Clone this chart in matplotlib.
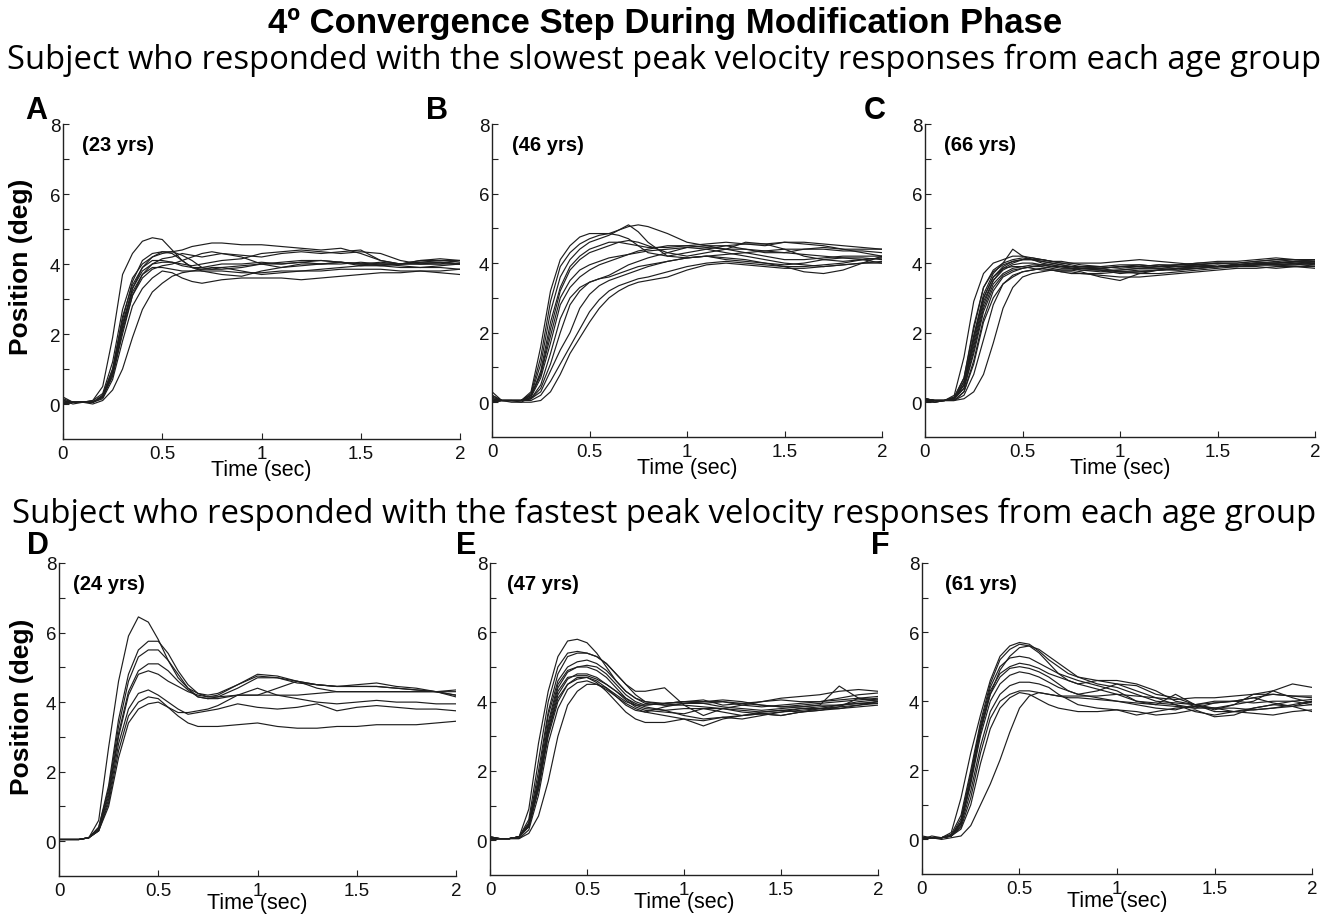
import matplotlib
matplotlib.use("Agg")
import matplotlib.pyplot as plt
from matplotlib.ticker import FixedLocator

# ---------------- data ----------------
time_s = [0.0, 0.05, 0.1, 0.15, 0.2, 0.25, 0.3, 0.35, 0.4, 0.45, 0.5, 0.55, 0.6, 0.65,
          0.7, 0.75, 0.8, 0.9, 1.0, 1.1, 1.2, 1.3, 1.4, 1.5, 1.6, 1.7, 1.8, 1.9, 2.0]

traces_A = [
    [0.1, 0.05, 0.05, 0.1, 0.5, 1.9, 3.7, 4.3, 4.65, 4.75, 4.7, 4.4, 4.1, 3.9, 3.85, 3.85, 3.9,
     3.95, 4.0, 4.0, 4.05, 4.0, 4.0, 4.05, 4.0, 4.0, 4.05, 4.1, 4.1],
    [0.0, 0.05, 0.05, 0.1, 0.3, 1.2, 2.7, 3.6, 4.0, 4.2, 4.3, 4.35, 4.4, 4.5, 4.55, 4.6, 4.6,
     4.55, 4.55, 4.5, 4.45, 4.4, 4.45, 4.3, 4.1, 4.0, 4.1, 4.1, 4.05],
    [0.2, 0.05, 0.05, 0.05, 0.25, 1.0, 2.4, 3.5, 4.1, 4.3, 4.35, 4.35, 4.25, 4.1, 3.9, 3.85, 3.85,
     3.9, 4.0, 4.05, 4.1, 4.1, 4.05, 4.0, 4.0, 4.0, 4.0, 4.0, 4.0],
    [0.1, 0.0, 0.05, 0.05, 0.2, 0.9, 2.2, 3.3, 3.9, 4.2, 4.35, 4.3, 4.1, 3.9, 3.8, 3.75, 3.7,
     3.65, 3.8, 3.9, 4.0, 4.0, 4.05, 3.95, 3.95, 3.9, 3.9, 3.95, 4.0],
    [0.0, 0.05, 0.05, 0.05, 0.2, 0.8, 2.0, 3.1, 3.7, 4.0, 4.15, 4.2, 4.3, 4.25, 4.2, 4.25, 4.3,
     4.25, 4.2, 4.3, 4.35, 4.3, 4.35, 4.4, 4.1, 4.0, 4.0, 4.05, 4.0],
    [0.05, 0.05, 0.05, 0.05, 0.15, 0.7, 1.8, 2.8, 3.3, 3.6, 3.8, 3.75, 3.6, 3.5, 3.45, 3.5, 3.55,
     3.6, 3.6, 3.6, 3.55, 3.6, 3.65, 3.7, 3.75, 3.75, 3.8, 3.8, 3.85],
    [0.0, 0.05, 0.05, 0.0, 0.1, 0.4, 1.0, 1.9, 2.7, 3.2, 3.45, 3.65, 3.75, 3.8, 3.8, 3.8, 3.8,
     3.75, 3.75, 3.8, 3.8, 3.8, 3.85, 3.85, 3.85, 3.8, 3.8, 3.75, 3.7],
    [0.1, 0.05, 0.05, 0.05, 0.2, 0.9, 2.3, 3.3, 3.8, 4.0, 4.05, 4.05, 4.0, 3.95, 4.0, 4.05, 4.1,
     4.15, 4.3, 4.35, 4.4, 4.35, 4.3, 4.35, 4.3, 4.1, 4.0, 4.0, 4.1],
    [0.05, 0.05, 0.05, 0.05, 0.2, 0.8, 2.1, 3.1, 3.6, 3.85, 3.95, 4.0, 4.1, 4.2, 4.3, 4.35, 4.3,
     4.2, 4.0, 3.9, 3.95, 4.0, 4.05, 4.0, 3.95, 4.0, 4.1, 4.15, 4.1],
    [0.0, 0.05, 0.05, 0.05, 0.2, 0.9, 2.2, 3.2, 3.7, 3.9, 3.9, 3.85, 3.8, 3.8, 3.85, 3.9, 3.9,
     3.8, 3.7, 3.75, 3.8, 3.85, 3.9, 3.95, 4.0, 3.95, 3.9, 3.9, 3.85],
    [0.15, 0.05, 0.05, 0.05, 0.25, 1.0, 2.5, 3.4, 3.9, 4.1, 4.1, 4.05, 3.95, 3.9, 3.9, 3.95, 4.0,
     4.0, 4.05, 4.0, 4.05, 4.1, 4.05, 4.0, 4.05, 4.0, 4.05, 4.05, 4.0],
]

traces_B = [
    [0.3, 0.05, 0.05, 0.05, 0.3, 1.6, 3.2, 4.1, 4.5, 4.75, 4.85, 4.85, 4.85, 4.8, 4.7, 4.5, 4.3,
     4.2, 4.15, 4.2, 4.25, 4.3, 4.35, 4.4, 4.4, 4.4, 4.35, 4.35, 4.3],
    [0.2, 0.05, 0.05, 0.05, 0.25, 1.3, 2.9, 3.9, 4.3, 4.55, 4.7, 4.8, 4.85, 4.95, 5.05, 5.1, 5.05,
     4.85, 4.6, 4.5, 4.4, 4.3, 4.2, 4.1, 4.1, 4.15, 4.2, 4.2, 4.2],
    [0.1, 0.05, 0.05, 0.05, 0.2, 1.1, 2.6, 3.6, 4.1, 4.4, 4.6, 4.7, 4.8, 4.95, 5.1, 4.9, 4.6,
     4.2, 4.3, 4.4, 4.5, 4.4, 4.3, 4.3, 4.4, 4.45, 4.4, 4.4, 4.4],
    [0.0, 0.05, 0.05, 0.0, 0.15, 0.9, 2.3, 3.3, 3.9, 4.2, 4.4, 4.5, 4.6, 4.6, 4.55, 4.5, 4.45,
     4.45, 4.5, 4.55, 4.6, 4.55, 4.5, 4.6, 4.6, 4.55, 4.5, 4.45, 4.4],
    [0.15, 0.05, 0.05, 0.05, 0.2, 0.8, 2.1, 3.2, 3.8, 4.1, 4.3, 4.4, 4.5, 4.6, 4.65, 4.6, 4.5,
     4.3, 4.2, 4.3, 4.4, 4.6, 4.55, 4.4, 4.2, 4.1, 4.05, 4.1, 4.15],
    [0.05, 0.05, 0.05, 0.05, 0.2, 0.8, 1.9, 3.0, 3.5, 3.8, 3.95, 4.05, 4.15, 4.2, 4.25, 4.3, 4.35,
     4.4, 4.45, 4.4, 4.3, 4.2, 4.1, 4.0, 3.95, 3.9, 3.95, 4.0, 4.0],
    [0.2, 0.05, 0.05, 0.05, 0.15, 0.7, 1.7, 2.8, 3.3, 3.6, 3.8, 3.95, 4.05, 4.15, 4.25, 4.35, 4.4,
     4.5, 4.5, 4.45, 4.4, 4.4, 4.35, 4.3, 4.25, 4.2, 4.15, 4.15, 4.1],
    [0.0, 0.05, 0.05, 0.05, 0.1, 0.5, 1.4, 2.4, 3.0, 3.3, 3.45, 3.55, 3.65, 3.8, 3.95, 4.05, 4.15,
     4.3, 4.45, 4.5, 4.5, 4.55, 4.55, 4.6, 4.55, 4.5, 4.4, 4.3, 4.2],
    [0.1, 0.05, 0.05, 0.05, 0.1, 0.4, 1.1, 2.0, 2.8, 3.2, 3.45, 3.55, 3.6, 3.7, 3.8, 3.9, 3.95,
     4.05, 4.15, 4.2, 4.15, 4.1, 4.0, 3.9, 3.75, 3.7, 3.8, 4.0, 4.2],
    [0.1, 0.05, 0.05, 0.05, 0.1, 0.3, 0.9, 1.5, 2.0, 2.7, 3.1, 3.35, 3.5, 3.6, 3.7, 3.8, 3.9,
     4.05, 4.15, 4.2, 4.1, 4.05, 4.0, 3.95, 4.0, 4.1, 4.15, 4.1, 4.0],
    [0.0, 0.05, 0.05, 0.05, 0.05, 0.2, 0.6, 1.1, 1.6, 2.1, 2.6, 2.95, 3.2, 3.35, 3.45, 3.55, 3.6,
     3.75, 3.9, 4.0, 4.05, 4.0, 3.95, 3.9, 3.9, 3.95, 4.0, 4.1, 4.15],
    [0.0, 0.05, 0.0, 0.0, 0.0, 0.05, 0.3, 0.8, 1.4, 1.85, 2.3, 2.7, 3.0, 3.2, 3.35, 3.45, 3.5,
     3.6, 3.8, 3.95, 4.0, 3.95, 3.9, 3.85, 3.85, 3.9, 3.95, 4.0, 4.05],
]

traces_C = [
    [0.1, 0.05, 0.05, 0.2, 1.3, 2.9, 3.7, 4.0, 4.1, 4.2, 4.2, 4.15, 4.1, 4.05, 4.0, 4.0, 3.95,
     3.9, 3.85, 3.9, 3.95, 3.95, 4.0, 4.0, 4.0, 4.05, 4.1, 4.05, 4.1],
    [0.05, 0.05, 0.05, 0.15, 0.7, 2.1, 3.3, 3.8, 4.0, 4.4, 4.2, 4.1, 4.05, 4.0, 3.95, 3.9, 3.9,
     3.85, 3.9, 3.95, 3.9, 3.95, 4.0, 4.05, 4.05, 4.1, 4.15, 4.1, 4.1],
    [0.1, 0.0, 0.05, 0.1, 0.6, 1.9, 3.1, 3.7, 4.0, 4.1, 4.15, 4.1, 4.0, 3.95, 3.9, 3.85, 3.8,
     3.75, 3.8, 3.85, 3.9, 3.95, 3.95, 3.9, 3.95, 4.0, 4.05, 4.0, 4.05],
    [0.05, 0.05, 0.05, 0.1, 0.5, 1.7, 2.9, 3.5, 3.8, 3.95, 4.0, 4.0, 3.95, 3.9, 3.85, 3.85, 3.8,
     3.8, 3.8, 3.85, 3.85, 3.9, 3.9, 3.95, 3.9, 3.95, 4.0, 4.0, 3.95],
    [0.0, 0.05, 0.05, 0.1, 0.4, 1.5, 2.7, 3.4, 3.7, 3.85, 3.9, 3.95, 3.95, 3.9, 3.9, 3.85, 3.85,
     3.8, 3.75, 3.8, 3.8, 3.85, 3.9, 3.9, 3.95, 3.95, 3.95, 4.0, 4.0],
    [0.1, 0.05, 0.05, 0.1, 0.5, 1.8, 3.0, 3.6, 3.9, 4.05, 4.1, 4.1, 4.05, 4.0, 3.95, 3.9, 3.85,
     3.8, 3.7, 3.75, 3.8, 3.8, 3.85, 3.9, 3.9, 3.95, 3.95, 3.9, 3.85],
    [0.0, 0.05, 0.05, 0.05, 0.3, 1.2, 2.4, 3.2, 3.6, 3.75, 3.85, 3.9, 3.95, 3.95, 3.9, 3.9, 3.85,
     3.85, 3.9, 3.9, 3.85, 3.8, 3.85, 3.9, 3.95, 4.0, 4.0, 4.05, 4.0],
    [0.1, 0.05, 0.05, 0.05, 0.3, 1.1, 2.3, 3.0, 3.4, 3.6, 3.75, 3.8, 3.85, 3.8, 3.75, 3.7, 3.7,
     3.65, 3.6, 3.6, 3.65, 3.7, 3.75, 3.8, 3.85, 3.85, 3.9, 3.9, 3.9],
    [0.05, 0.05, 0.05, 0.1, 0.4, 1.4, 2.6, 3.3, 3.65, 3.8, 3.85, 3.9, 3.9, 3.85, 3.8, 3.8, 3.75,
     3.6, 3.5, 3.7, 3.8, 3.85, 3.9, 3.9, 3.95, 4.0, 3.95, 3.95, 4.0],
    [0.0, 0.0, 0.05, 0.05, 0.1, 0.3, 0.8, 1.7, 2.7, 3.3, 3.6, 3.7, 3.75, 3.8, 3.8, 3.8, 3.85,
     3.85, 3.9, 3.9, 3.95, 3.9, 3.95, 4.0, 3.95, 4.0, 4.0, 4.05, 4.05],
    [0.05, 0.05, 0.05, 0.05, 0.2, 0.8, 1.8, 2.8, 3.4, 3.65, 3.75, 3.8, 3.85, 3.9, 3.9, 3.9, 3.9,
     3.9, 3.95, 3.95, 3.9, 3.9, 3.95, 4.0, 4.0, 4.05, 4.1, 4.1, 4.1],
    [0.1, 0.05, 0.05, 0.15, 0.7, 2.2, 3.3, 3.75, 3.95, 4.05, 4.1, 4.1, 4.1, 4.05, 4.05, 4.0, 4.0,
     4.0, 4.05, 4.1, 4.05, 4.0, 3.95, 3.9, 3.95, 4.0, 4.0, 4.05, 4.1],
    [0.05, 0.0, 0.05, 0.1, 0.5, 1.6, 2.8, 3.5, 3.85, 4.0, 4.1, 4.15, 4.1, 4.05, 4.0, 3.95, 3.9,
     3.85, 3.75, 3.75, 3.8, 3.85, 3.85, 3.9, 3.9, 3.95, 3.95, 3.95, 4.0],
    [0.1, 0.05, 0.05, 0.1, 0.6, 1.9, 3.0, 3.6, 3.85, 3.9, 3.9, 3.85, 3.8, 3.8, 3.75, 3.75, 3.7,
     3.7, 3.75, 3.7, 3.7, 3.75, 3.8, 3.85, 3.9, 3.9, 3.85, 3.9, 3.95],
]

traces_D = [
    [0.05, 0.05, 0.05, 0.1, 0.6, 2.7, 4.6, 5.9, 6.45, 6.3, 5.8, 5.2, 4.7, 4.4, 4.25, 4.2, 4.25,
     4.5, 4.8, 4.75, 4.6, 4.5, 4.45, 4.45, 4.45, 4.4, 4.35, 4.3, 4.2],
    [0.05, 0.05, 0.05, 0.1, 0.4, 1.6, 3.5, 4.8, 5.5, 5.75, 5.75, 5.4, 4.9, 4.5, 4.25, 4.15, 4.2,
     4.5, 4.75, 4.7, 4.6, 4.5, 4.45, 4.45, 4.45, 4.4, 4.35, 4.3, 4.2],
    [0.05, 0.05, 0.05, 0.1, 0.4, 1.5, 3.3, 4.6, 5.3, 5.5, 5.5, 5.2, 4.8, 4.4, 4.15, 4.1, 4.15,
     4.4, 4.7, 4.7, 4.55, 4.5, 4.45, 4.5, 4.55, 4.45, 4.4, 4.3, 4.15],
    [0.05, 0.05, 0.05, 0.1, 0.35, 1.4, 3.1, 4.3, 4.9, 5.1, 5.1, 4.9, 4.6, 4.35, 4.15, 4.1, 4.1,
     4.2, 4.2, 4.4, 4.6, 4.4, 4.3, 4.3, 4.3, 4.3, 4.3, 4.3, 4.35],
    [0.05, 0.05, 0.05, 0.1, 0.35, 1.3, 3.0, 4.2, 4.8, 4.9, 4.8, 4.6, 4.45, 4.3, 4.2, 4.15, 4.15,
     4.2, 4.2, 4.2, 4.2, 4.25, 4.3, 4.3, 4.3, 4.3, 4.3, 4.3, 4.3],
    [0.05, 0.05, 0.05, 0.1, 0.3, 1.2, 2.8, 3.8, 4.25, 4.35, 4.2, 4.0, 3.8, 3.65, 3.7, 3.75, 3.8,
     3.95, 3.85, 3.8, 3.85, 3.95, 3.75, 3.85, 3.9, 3.85, 3.8, 3.8, 3.75],
    [0.05, 0.05, 0.05, 0.1, 0.3, 1.1, 2.6, 3.6, 4.0, 4.15, 4.1, 3.85, 3.7, 3.7, 3.75, 3.8, 3.9,
     4.2, 4.4, 4.2, 4.1, 4.0, 3.95, 4.0, 4.05, 4.0, 4.0, 3.95, 3.95],
    [0.05, 0.05, 0.05, 0.1, 0.3, 1.0, 2.4, 3.4, 3.8, 3.95, 4.0, 3.85, 3.6, 3.4, 3.3, 3.3, 3.3,
     3.35, 3.4, 3.3, 3.25, 3.25, 3.3, 3.3, 3.35, 3.35, 3.35, 3.4, 3.45],
]

traces_E = [
    [0.1, 0.05, 0.05, 0.1, 0.9, 2.8, 4.3, 5.3, 5.75, 5.8, 5.7, 5.4, 5.0, 4.6, 4.3, 4.1, 4.0,
     3.95, 4.0, 3.95, 4.0, 3.9, 3.85, 3.9, 3.95, 4.0, 4.05, 4.1, 4.15],
    [0.1, 0.05, 0.05, 0.1, 0.6, 2.3, 4.0, 5.0, 5.4, 5.45, 5.4, 5.3, 5.1, 4.8, 4.5, 4.2, 4.0,
     3.9, 3.95, 4.0, 4.0, 3.95, 3.9, 3.85, 3.9, 3.95, 4.0, 4.05, 4.1],
    [0.05, 0.05, 0.05, 0.1, 0.5, 2.0, 3.7, 4.8, 5.3, 5.4, 5.4, 5.3, 5.1, 4.8, 4.5, 4.3, 4.3,
     4.4, 3.9, 3.6, 3.8, 3.9, 4.0, 4.05, 4.0, 4.0, 4.1, 4.2, 4.25],
    [0.1, 0.05, 0.05, 0.1, 0.5, 1.8, 3.6, 4.6, 5.0, 5.15, 5.2, 5.1, 4.9, 4.6, 4.3, 4.1, 3.95,
     3.9, 3.9, 3.85, 3.8, 3.75, 3.7, 3.75, 3.8, 3.85, 3.9, 3.95, 4.0],
    [0.05, 0.05, 0.05, 0.1, 0.4, 1.6, 3.3, 4.4, 4.85, 5.0, 5.0, 4.9, 4.7, 4.4, 4.1, 3.9, 3.8,
     3.75, 3.8, 3.8, 3.7, 3.6, 3.65, 3.7, 3.8, 3.8, 3.85, 3.9, 3.95],
    [0.05, 0.05, 0.05, 0.1, 0.4, 1.5, 3.1, 4.2, 4.65, 4.8, 4.8, 4.7, 4.5, 4.3, 4.1, 3.95, 3.85,
     3.75, 3.6, 3.5, 3.55, 3.6, 3.7, 3.75, 3.7, 3.8, 3.9, 4.0, 4.05],
    [0.05, 0.05, 0.05, 0.1, 0.4, 1.5, 3.0, 4.0, 4.5, 4.7, 4.7, 4.55, 4.3, 4.0, 3.7, 3.5, 3.4,
     3.4, 3.5, 3.45, 3.55, 3.5, 3.6, 3.7, 3.75, 3.8, 3.8, 3.85, 3.9],
    [0.0, 0.05, 0.05, 0.05, 0.3, 1.3, 2.8, 3.8, 4.35, 4.55, 4.6, 4.5, 4.35, 4.15, 3.95, 3.8, 3.7,
     3.6, 3.5, 3.3, 3.5, 3.6, 3.65, 3.6, 3.7, 3.75, 3.8, 3.9, 4.0],
    [0.0, 0.05, 0.05, 0.05, 0.2, 0.7, 1.7, 3.0, 3.9, 4.3, 4.5, 4.5, 4.4, 4.2, 4.0, 3.9, 3.9,
     3.95, 4.0, 4.0, 4.05, 4.0, 3.9, 3.85, 3.85, 3.9, 3.9, 3.95, 3.95],
    [0.1, 0.05, 0.05, 0.1, 0.45, 1.7, 3.4, 4.5, 4.9, 5.0, 5.05, 5.0, 4.8, 4.5, 4.2, 4.0, 3.9,
     3.95, 4.0, 4.05, 3.9, 3.95, 4.0, 4.1, 4.15, 4.2, 4.3, 4.35, 4.3],
    [0.05, 0.05, 0.05, 0.1, 0.45, 1.6, 3.2, 4.3, 4.7, 4.75, 4.75, 4.65, 4.5, 4.3, 4.05, 3.85, 3.75,
     3.7, 3.65, 3.8, 3.8, 3.7, 3.65, 3.6, 3.7, 3.75, 3.85, 4.1, 4.05],
    [0.05, 0.05, 0.05, 0.1, 0.4, 1.5, 3.1, 4.1, 4.5, 4.65, 4.7, 4.6, 4.4, 4.15, 3.9, 3.75, 3.7,
     3.85, 3.95, 3.95, 3.85, 3.8, 3.75, 3.8, 3.85, 3.9, 4.45, 4.1, 4.0],
]

traces_F = [
    [0.0, 0.1, 0.05, 0.2, 1.2, 2.5, 3.6, 4.6, 5.3, 5.6, 5.7, 5.65, 5.45, 5.2, 5.0, 4.8, 4.7,
     4.5, 4.4, 4.2, 4.0, 3.95, 3.9, 3.95, 4.0, 4.1, 4.2, 4.15, 4.1],
    [0.05, 0.05, 0.05, 0.15, 0.7, 2.0, 3.4, 4.5, 5.2, 5.5, 5.65, 5.6, 5.5, 5.3, 5.1, 4.9, 4.7,
     4.6, 4.6, 4.5, 4.3, 4.0, 3.9, 3.8, 3.9, 4.0, 4.3, 4.5, 4.4],
    [0.0, 0.05, 0.05, 0.1, 0.5, 1.7, 3.1, 4.2, 4.9, 5.3, 5.55, 5.6, 5.4, 5.1, 4.8, 4.6, 4.5,
     4.6, 4.5, 4.45, 4.2, 4.1, 3.9, 3.75, 3.9, 4.2, 4.3, 4.1, 3.95],
    [0.05, 0.05, 0.05, 0.1, 0.6, 1.9, 3.3, 4.4, 5.0, 5.25, 5.3, 5.25, 5.1, 4.95, 4.8, 4.7, 4.6,
     4.45, 4.3, 4.0, 3.9, 4.2, 3.9, 3.7, 3.7, 3.75, 3.8, 3.9, 4.0],
    [0.05, 0.05, 0.05, 0.1, 0.5, 1.8, 3.2, 4.3, 4.8, 5.0, 5.1, 5.05, 4.95, 4.8, 4.7, 4.6, 4.5,
     4.35, 4.2, 4.0, 3.95, 3.9, 3.7, 3.6, 3.7, 3.8, 3.9, 4.0, 3.9],
    [0.0, 0.05, 0.05, 0.1, 0.45, 1.6, 3.0, 4.0, 4.5, 4.75, 4.85, 4.8, 4.7, 4.55, 4.4, 4.3, 4.2,
     4.1, 4.0, 3.9, 3.8, 3.75, 3.9, 4.0, 4.0, 3.95, 4.0, 4.0, 4.05],
    [0.05, 0.05, 0.05, 0.1, 0.4, 1.4, 2.7, 3.7, 4.2, 4.45, 4.55, 4.55, 4.5, 4.4, 4.2, 4.05, 3.9,
     3.8, 3.75, 3.6, 3.7, 3.8, 3.85, 3.8, 3.7, 3.65, 3.6, 3.7, 3.75],
    [0.0, 0.05, 0.05, 0.1, 0.35, 1.2, 2.5, 3.5, 4.0, 4.2, 4.3, 4.3, 4.25, 4.2, 4.15, 4.1, 4.1,
     4.05, 4.0, 3.95, 3.9, 3.85, 3.8, 3.8, 3.8, 3.75, 3.8, 3.85, 3.9],
    [0.05, 0.05, 0.05, 0.1, 0.3, 1.0, 2.2, 3.2, 3.8, 4.1, 4.25, 4.2, 4.05, 3.9, 3.8, 3.75, 3.7,
     3.7, 3.75, 3.7, 3.6, 3.65, 3.75, 3.55, 3.6, 3.8, 3.9, 3.85, 3.7],
    [0.05, 0.05, 0.0, 0.05, 0.1, 0.4, 1.0, 1.6, 2.3, 3.1, 3.8, 4.15, 4.25, 4.2, 4.15, 4.15, 4.15,
     4.15, 4.2, 4.15, 4.1, 4.05, 4.1, 4.1, 4.15, 4.2, 4.2, 4.15, 4.15],
    [0.1, 0.05, 0.05, 0.1, 0.5, 1.7, 3.2, 4.2, 4.7, 4.95, 5.0, 4.95, 4.85, 4.7, 4.5, 4.3, 4.2,
     4.3, 4.5, 4.3, 4.1, 3.9, 3.8, 3.95, 4.0, 4.1, 3.95, 3.85, 4.0],
]

panel_letters = ["A", "B", "C", "D", "E", "F"]
age_labels = ["(23 yrs)", "(46 yrs)", "(66 yrs)", "(24 yrs)", "(47 yrs)", "(61 yrs)"]
all_traces = [traces_A, traces_B, traces_C, traces_D, traces_E, traces_F]
x_ticks = [0, 0.5, 1, 1.5, 2]
x_tick_labels = ["0", "0.5", "1", "1.5", "2"]
y_ticks = [0, 2, 4, 6, 8]

title = "4\u00ba Convergence Step During Modification Phase"
subtitle_top = "Subject who responded with the slowest peak velocity responses from each age group"
subtitle_bottom = "Subject who responded with the fastest peak velocity responses from each age group"

# ---------------- layout ----------------
W, H = 1330, 920
plt.rcParams["font.family"] = ["Liberation Sans", "DejaVu Sans"]
fig = plt.figure(figsize=(W / 100, H / 100), dpi=100)

# axes boxes in pixels: left, top, right, bottom
boxes = [(63, 125, 460, 440), (492, 125, 882, 438), (925, 125, 1315, 438),
         (59, 564, 456, 877), (490, 564, 878, 876), (922, 564, 1312, 875)]
letter_pos = [(36, 111), (437, 111), (875, 111), (38, 546), (466, 546), (880, 546)]
age_pos_x = [0.096, 0.10, 0.10, 0.07, 0.088, 0.118]

line_color = "#1e1e1e"

for i, (l, t, r, b) in enumerate(boxes):
    ax = fig.add_axes([l / W, 1 - b / H, (r - l) / W, (b - t) / H])
    for tr in all_traces[i]:
        ax.plot(time_s, tr, color=line_color, lw=0.85, solid_joinstyle="round")
    ax.set_xlim(0, 2)
    ax.set_ylim(-1, 8)
    ax.spines["top"].set_visible(False)
    ax.spines["right"].set_visible(False)
    for s in ("left", "bottom"):
        ax.spines[s].set_linewidth(1.0)
        ax.spines[s].set_color("#222222")
    ax.xaxis.set_major_locator(FixedLocator(x_ticks))
    ax.set_xticklabels(x_tick_labels)
    ax.yaxis.set_major_locator(FixedLocator(y_ticks))
    ax.yaxis.set_minor_locator(FixedLocator([1, 3, 5, 7]))
    ax.tick_params(axis="both", which="both", direction="in", length=4, width=0.8,
                   colors="#222222", labelsize=13.5, labelcolor="#111111")
    ax.tick_params(axis="y", pad=2)
    ax.tick_params(axis="x", pad=4)
    ax.set_xlabel("Time (sec)", fontsize=15.5)
    ax.xaxis.set_label_coords(0.5, -0.065 if i < 3 else -0.052)
    if i in (0, 3):
        ax.set_ylabel("Position (deg)", fontsize=19, fontweight="bold")
        if i == 0:
            ax.yaxis.set_label_coords(-0.076, 0.55)
        else:
            ax.yaxis.set_label_coords(-0.062, 0.543)
    ax.text(age_pos_x[i], 7.42, age_labels[i], fontsize=14.5, fontweight="bold",
            ha="left", va="center")
    lx, ly = letter_pos[i]
    fig.text(lx / W, 1 - ly / H, panel_letters[i], fontsize=22, fontweight="bold",
             ha="center", va="center")

fig.text(0.5, 1 - 24 / H, title, fontsize=25, fontweight="bold", ha="center", va="center")

sub_font = ["Open Sans", "DejaVu Sans"]
st1 = fig.text(664 / W, 1 - 60 / H, subtitle_top, fontsize=20, family=sub_font,
               ha="center", va="center")
st2 = fig.text(664 / W, 1 - 514 / H, subtitle_bottom, fontsize=20, family=sub_font,
               ha="center", va="center")
renderer = fig.canvas.get_renderer()
for st, target in ((st1, 1308), (st2, 1304)):
    w = st.get_window_extent(renderer).width
    st.set_fontsize(20 * target / w)

fig.savefig("out.png", dpi=100, facecolor="white")
